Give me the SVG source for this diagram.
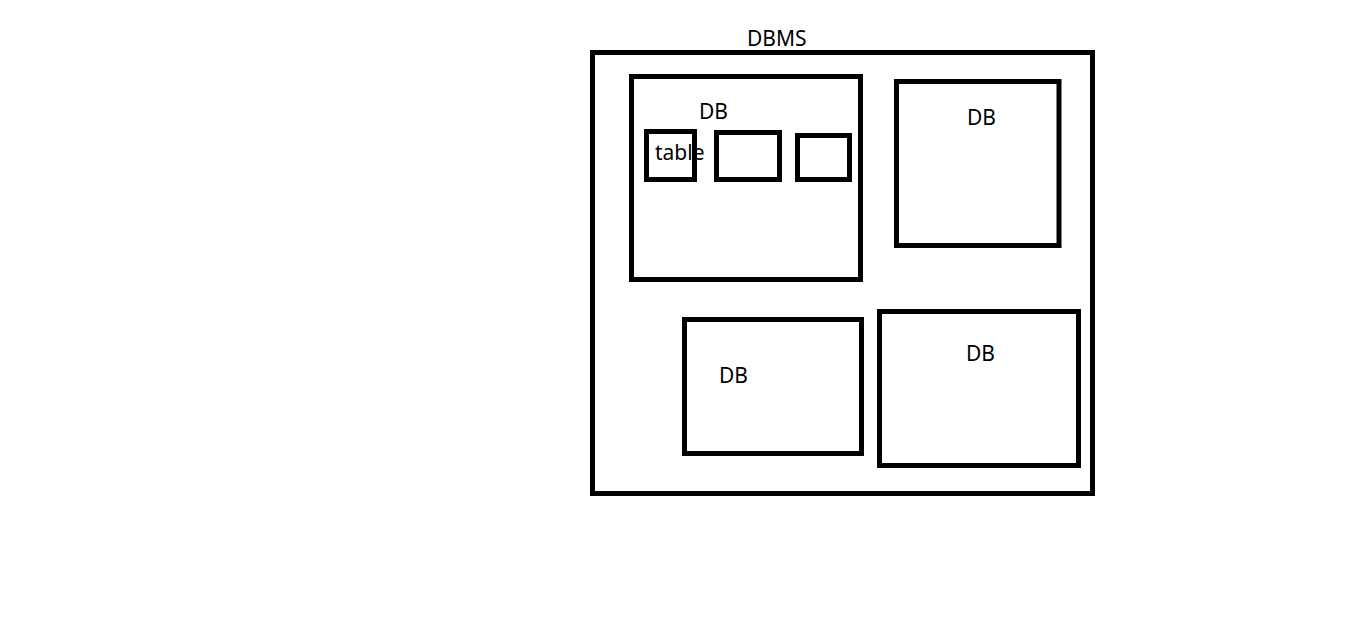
<svg xmlns="http://www.w3.org/2000/svg" width="1360" height="623" viewBox="0 0 1360 623">
<style>
.box{fill:none;stroke:#000;stroke-width:5}
.lbl{font-family:"Noto Sans","Open Sans",sans-serif;font-size:21px;fill:#000}
</style>
<rect width="1360" height="623" fill="#fff"/>
<g id="dbms">
<rect class="box" x="592.5" y="52.5" width="500" height="441"/>
<text class="lbl" x="747" y="46">DBMS</text>
</g>
<g id="db1">
<rect class="box" x="631.5" y="76.5" width="229" height="203"/>
<text class="lbl" x="699" y="119">DB</text>
</g>
<g id="table1">
<rect class="box" x="646.5" y="131.5" width="48" height="48"/>
<text class="lbl" x="655" y="160">table</text>
</g>
<g id="table2">
<rect class="box" x="716.5" y="132.5" width="63" height="47"/>
</g>
<g id="table3">
<rect class="box" x="797.5" y="135.5" width="52" height="44"/>
</g>
<g id="db2">
<rect class="box" x="896.5" y="81.5" width="162.5" height="164"/>
<text class="lbl" x="967" y="125">DB</text>
</g>
<g id="db3">
<rect class="box" x="684.5" y="319.5" width="177" height="134"/>
<text class="lbl" x="719" y="383">DB</text>
</g>
<g id="db4">
<rect class="box" x="879.5" y="311.5" width="199" height="154"/>
<text class="lbl" x="966" y="361">DB</text>
</g>
<g id="connectors"></g>
</svg>
